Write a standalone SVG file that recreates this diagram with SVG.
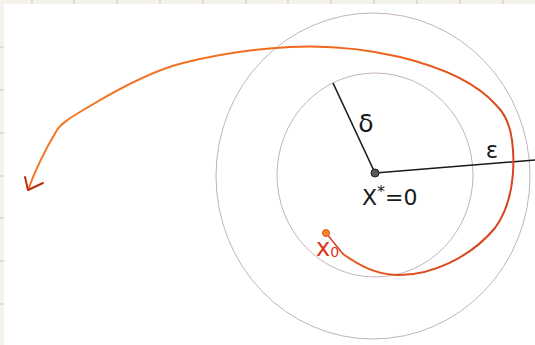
<svg xmlns="http://www.w3.org/2000/svg" width="535" height="345" viewBox="0 0 535 345">
<style>
.grid{stroke:#c9c5bd;stroke-width:1}
.ring{fill:none;stroke:#c4b3ba;stroke-width:1}
.radius{stroke:#1a1a1a;stroke-width:1.6;fill:none}
.lbl{font-family:"DejaVu Sans","Liberation Sans",sans-serif;fill:#1a1a1a}
.traj{fill:none;stroke:url(#tg);stroke-width:2;stroke-linecap:round;stroke-linejoin:round}
</style>
<defs>
<linearGradient id="tg" gradientUnits="userSpaceOnUse" x1="60" y1="60" x2="500" y2="260">
<stop offset="0" stop-color="#f27820"/>
<stop offset="0.55" stop-color="#f0661c"/>
<stop offset="1" stop-color="#d4401e"/>
</linearGradient>
</defs>
<rect width="535" height="345" fill="#ffffff"/>
<g id="sheet-edge">
<rect x="0" y="0" width="535" height="4" fill="#f5f2ec"/>
<rect x="0" y="0" width="4" height="345" fill="#f5f2ec"/>
<path class="grid" d="M32 0V4M74 0V4M117 0V4M160 0V4M203 0V4M246 0V4M288 0V4M331 0V4M374 0V4M417 0V4M460 0V4M503 0V4M0 47H4M0 90H4M0 133H4M0 176H4M0 218H4M0 261H4M0 304H4"/>
</g>
<g id="outer-ball">
<ellipse class="ring" cx="373" cy="176" rx="157" ry="163"/>
</g>
<g id="inner-ball">
<ellipse class="ring" cx="375" cy="175" rx="98" ry="102"/>
</g>
<g id="connectors">
<line class="radius" x1="375" y1="173" x2="333" y2="83"/>
<line class="radius" x1="375" y1="173" x2="535" y2="160"/>
<path class="traj" d="M343 254 C360 266 375 274 397 275 C430 276 470 258 495 228 C512 205 516 170 512 140 C510 125 505 114 497 106 C478 84 445 68 400 57 C370 50 330 45 290 47 C250 49 215 55 183 63 C155 70 120 88 90 106 C75 115 62 122 57 130 C48 145 36 168 28 190"/>
<path d="M25 177 L28 190 L43 183" fill="none" stroke="#b8301a" stroke-width="2" stroke-linecap="round" stroke-linejoin="round"/>
<line x1="326" y1="233" x2="343" y2="254" stroke="#d8401e" stroke-width="1.5"/>
</g>
<g id="equilibrium">
<circle cx="375" cy="173" r="4" fill="#5a5a5a" stroke="#222" stroke-width="1"/>
<text class="lbl" x="362" y="205" font-size="22">X<tspan font-size="16" dy="-8">*</tspan><tspan dy="8">=0</tspan></text>
</g>
<g id="delta-label">
<text class="lbl" x="366" y="132" font-size="25" text-anchor="middle">δ</text>
</g>
<g id="epsilon-label">
<text class="lbl" x="492" y="158" font-size="23" text-anchor="middle">ε</text>
</g>
<g id="x0">
<circle cx="326" cy="233" r="3.5" fill="#f08a28" stroke="#e0501e" stroke-width="1"/>
<text x="316" y="256" font-size="24" font-family="DejaVu Sans, Liberation Sans, sans-serif" fill="#d8381a">x<tspan font-size="14" dy="1">0</tspan></text>
</g>
</svg>
